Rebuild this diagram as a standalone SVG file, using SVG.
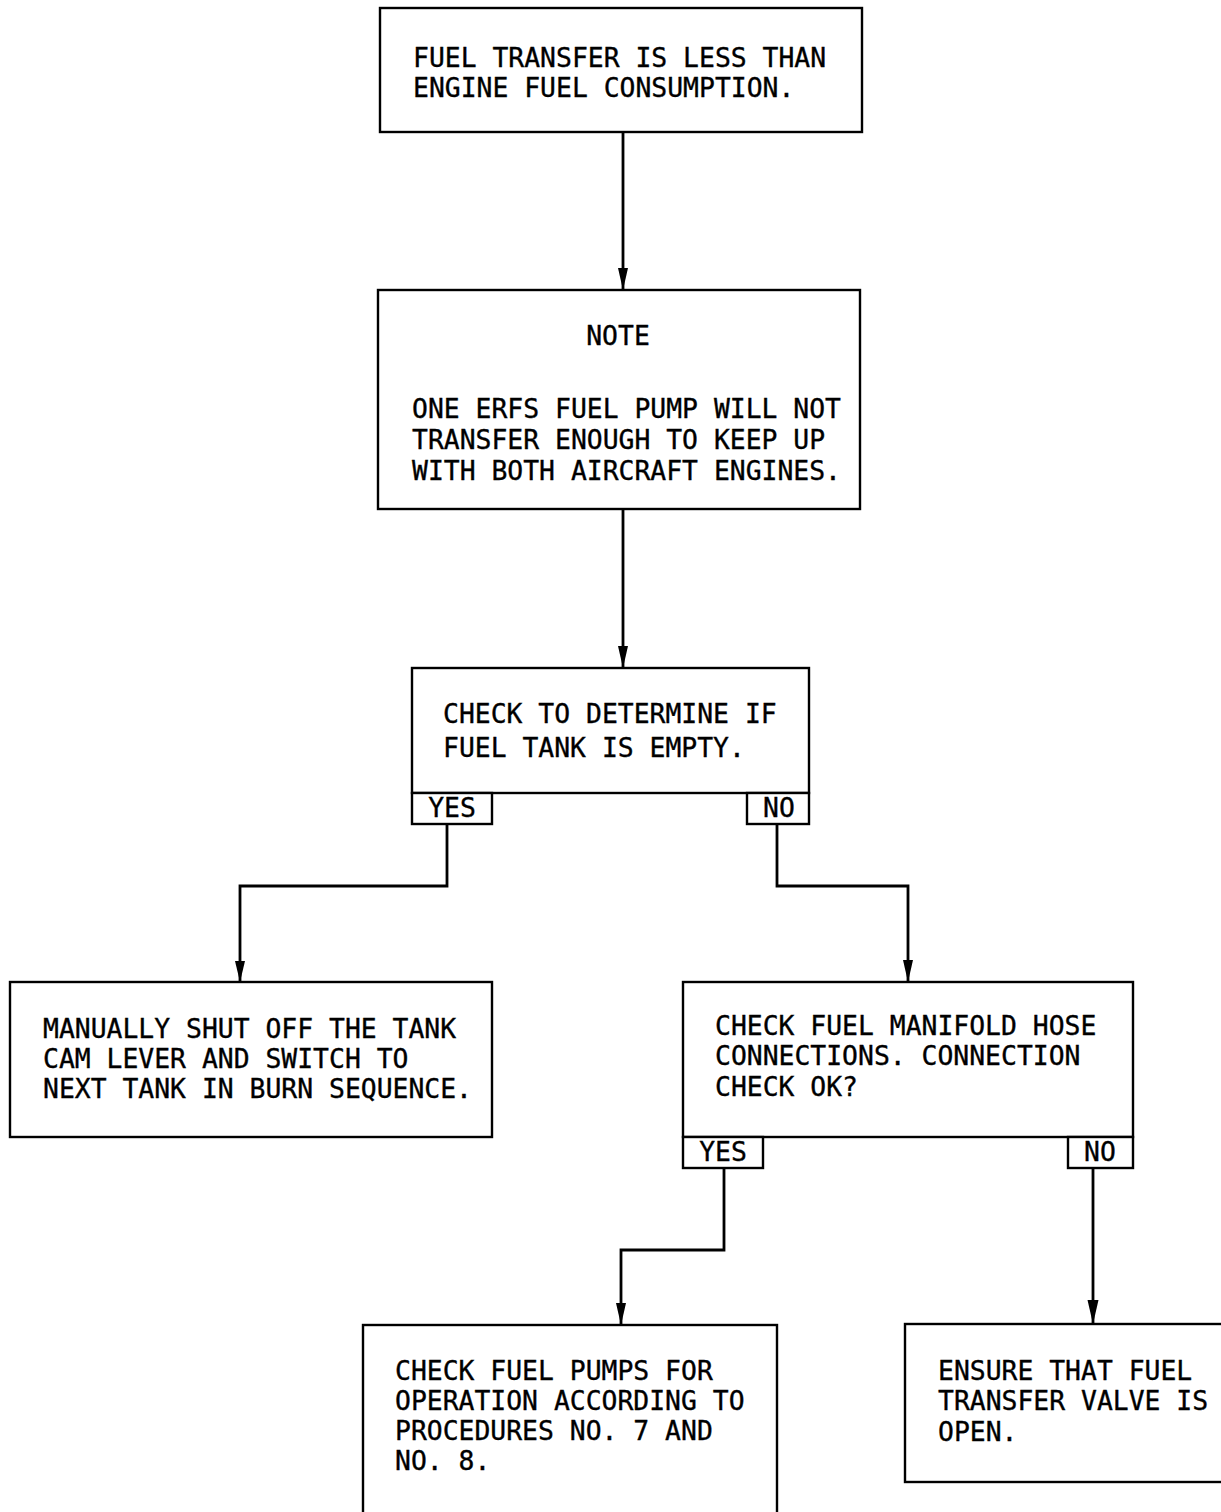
<svg xmlns="http://www.w3.org/2000/svg" width="1221" height="1512" viewBox="0 0 1221 1512">
<style>
.box{fill:#fff;stroke:#000;stroke-width:2.4}
.t{font-family:"DejaVu Sans Mono","Liberation Mono",monospace;font-size:26.4px;fill:#000;stroke:#000;stroke-width:0.35}
.c{text-anchor:middle}
.ln{fill:none;stroke:#000;stroke-width:2.8}
</style>
<rect width="1221" height="1512" fill="#fff"/>
<g id="connectors">
<path class="ln" d="M623,132 V290"/>
<path d="M618,268 L628,268 L623,290 Z"/>
<path class="ln" d="M623,509 V668"/>
<path d="M618,646 L628,646 L623,668 Z"/>
<path class="ln" d="M447,824 V886 H240 V982"/>
<path d="M235,961 L245,961 L240,982 Z"/>
<path class="ln" d="M777,824 V886 H908 V982"/>
<path d="M903,960 L913,960 L908,982 Z"/>
<path class="ln" d="M724,1168 V1250 H621 V1325"/>
<path d="M616,1303 L626,1303 L621,1325 Z"/>
<path class="ln" d="M1093,1168 V1324"/>
<path d="M1087.5,1300 L1098.5,1300 L1093,1324 Z"/>
</g>
<g id="start">
<rect class="box" x="380" y="8" width="482" height="124"/>
<text class="t" x="413" y="67">FUEL TRANSFER IS LESS THAN</text>
<text class="t" x="413" y="97">ENGINE FUEL CONSUMPTION.</text>
</g>
<g id="note">
<rect class="box" x="378" y="290" width="482" height="219"/>
<text class="t c" x="618" y="345">NOTE</text>
<text class="t" x="412" y="418">ONE ERFS FUEL PUMP WILL NOT</text>
<text class="t" x="412" y="449">TRANSFER ENOUGH TO KEEP UP</text>
<text class="t" x="412" y="480">WITH BOTH AIRCRAFT ENGINES.</text>
</g>
<g id="tank-empty">
<rect class="box" x="412" y="668" width="397" height="125"/>
<text class="t" x="443" y="723">CHECK TO DETERMINE IF</text>
<text class="t" x="443" y="757">FUEL TANK IS EMPTY.</text>
<rect class="box" x="412" y="793" width="80" height="31"/>
<text class="t c" x="452" y="817">YES</text>
<rect class="box" x="747" y="793" width="62" height="31"/>
<text class="t c" x="779" y="817">NO</text>
</g>
<g id="shut-off">
<rect class="box" x="10" y="982" width="482" height="155"/>
<text class="t" x="43" y="1038">MANUALLY SHUT OFF THE TANK</text>
<text class="t" x="43" y="1068">CAM LEVER AND SWITCH TO</text>
<text class="t" x="43" y="1098">NEXT TANK IN BURN SEQUENCE.</text>
</g>
<g id="manifold">
<rect class="box" x="683" y="982" width="450" height="155"/>
<text class="t" x="715" y="1035">CHECK FUEL MANIFOLD HOSE</text>
<text class="t" x="715" y="1065">CONNECTIONS.  CONNECTION</text>
<text class="t" x="715" y="1096">CHECK OK?</text>
<rect class="box" x="683" y="1137" width="80" height="31"/>
<text class="t c" x="723" y="1161">YES</text>
<rect class="box" x="1068" y="1137" width="65" height="31"/>
<text class="t c" x="1100" y="1161">NO</text>
</g>
<g id="pumps">
<rect class="box" x="363" y="1325" width="414" height="200"/>
<text class="t" x="395" y="1380">CHECK FUEL PUMPS FOR</text>
<text class="t" x="395" y="1410">OPERATION ACCORDING TO</text>
<text class="t" x="395" y="1440">PROCEDURES NO. 7 AND</text>
<text class="t" x="395" y="1470">NO. 8.</text>
</g>
<g id="valve">
<rect class="box" x="905" y="1324" width="330" height="158"/>
<text class="t" x="938" y="1380">ENSURE THAT FUEL</text>
<text class="t" x="938" y="1410">TRANSFER VALVE IS</text>
<text class="t" x="938" y="1441">OPEN.</text>
</g>
</svg>
